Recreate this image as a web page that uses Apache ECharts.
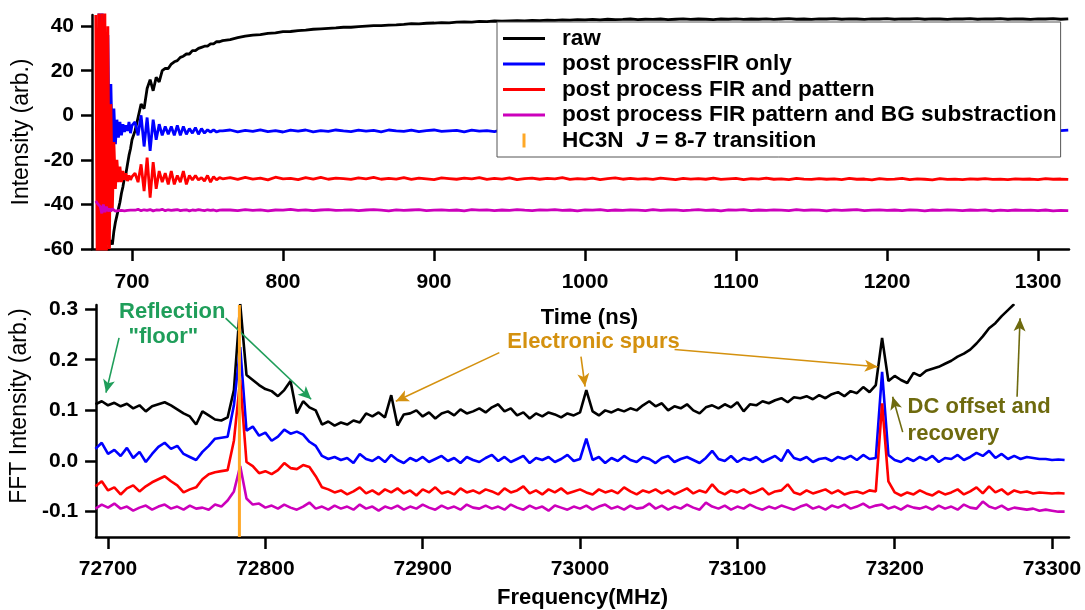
<!DOCTYPE html>
<html><head><meta charset="utf-8">
<script src="https://cdn.jsdelivr.net/npm/echarts@6/dist/echarts.min.js"></script>
<style>html,body{margin:0;padding:0;background:#fff}#c{width:1085px;height:610px}</style>
</head><body><div id="c"></div>
<script>
// ---------- labels / ticks ----------
const seriesNames = ['raw', 'post processFIR only', 'post process FIR and pattern', 'post process FIR pattern and BG substraction'];
const hc3nName = 'HC3N  J = 8-7 transition';
const hc3nFreq = 72783.5;
const timeTicks = [700, 800, 900, 1000, 1100, 1200, 1300];
const intensityTicks = [-60, -40, -20, 0, 20, 40];
const freqTicks = [72700, 72800, 72900, 73000, 73100, 73200, 73300];
const fftTicks = [-0.1, 0, 0.1, 0.2, 0.3];

// ---------- time-domain sampling: [start, step, count] ----------
const timeSegments = [[676, 1, 25], [702, 2, 30], [765, 5, 112]];

const timeRaw = [
  -80,-80,-80,-80,-78,-75,-72,-66,-62,-58,-56,-58,-52,-48,-45,-42,-39,-35,-32,-28,-26,-22,-18,-15,-11,
  -7,-1,5,3,12,16,11,17,15,20,21,21,23,24,24.5,26,26.5,27.5,27.5,29,29,30,30.5,31,31,32,32,33,33,33.5,
  34,34.8,35.5,36,36.2,36.8,37,37.5, 37.6,38,38.2,38.6,38.8,39,39.2,39.5, 39.5,39.8,40,40.2,40.2,40.5,40.6,40.8,
  41.1,41.0,41.3,41.4,41.6,41.5,41.8,41.9, 41.8,42.1,42.0,42.3,42.2,42.4,42.5,42.3, 42.6,42.5,42.7,42.6,42.8,42.7,42.9,42.8,
  43.0,42.8,43.1,42.9,43.0,43.2,42.9,43.1, 43.0,43.2,42.9,43.1,43.3,43.0,43.2,43.1,
  42.9,43.2,43.1,43.3,43.0,43.2,43.1,43.3, 43.0,43.2,43.4,43.1,43.2,43.0,43.3,43.2,
  43.4,43.1,43.3,43.2,43.0,43.3,43.2,43.4, 43.1,43.3,43.2,43.4,43.1,43.3,43.2,43.0,
  43.3,43.2,43.4,43.1,43.3,43.2,43.4,43.1, 43.3,43.2,43.0,43.3,43.2,43.4,43.1,43.3
];
const timeFirOnly = [
  50,46,50,18,48,40,30,-22,36,-26,14,-18,3,-13,-2,-10,-3,-9,-4,-7.5,-4.5,-7,-3,-8,-4.5,
  -3,-9,0,-14,-1,-16,-2,-11,-4,-9,-5,-8.5,-5,-9,-4.5,-9,-5,-8.5,-6,-8,-5.5,-8.5,-6,-8,-6.5,-7.5,-6.5,-7.5,-7,-7,
  -6.6,-7.4,-6.8,-7.2,-6.5,-7.3,-6.9,-7.5, -6.7,-7.1,-6.6,-7.4,-6.9,-7.2,-6.6,-7.0,
  -7.3,-6.7,-7.1,-6.8,-7.4,-6.6,-7.0,-7.2, -6.7,-7.3,-6.9,-6.6,-7.2,-7.0,-6.8,-7.4,
  -6.7,-7.1,-6.9,-7.3,-6.6,-7.0,-7.2,-6.8, -7.1,-6.7,-7.3,-6.9,-7.0,-6.6,-7.2,-6.8,
  -7.1,-6.9,-6.6,-7.2,-7.0,-6.7,-7.3,-6.9, -6.8,-7.1,-6.6,-7.0,-7.2,-6.8,-6.9,-7.1,
  -6.7,-7.2,-6.9,-6.6,-7.0,-7.3,-6.8,-7.0, -6.7,-7.1,-6.9,-7.2,-6.6,-7.0,-6.8,-7.1,
  -6.9,-6.7,-7.2,-6.8,-7.0,-6.6,-7.1,-6.9, -7.2,-6.8,-6.6,-7.0,-7.1,-6.7,-6.9,-7.2,
  -6.8,-7.0,-6.7,-7.1,-6.9,-6.6,-7.0,-6.8, -7.1,-6.9,-6.7,-7.0,-6.8,-6.6,-6.9,-6.7
];
const timeFirPattern = [
  45,-75,50,-75,50,-75,50,-70,40,-60,5,-42,-12,-33,-20,-30,-23,-30,-25,-29,-26,-29.5,-27,-29,-27.5,
  -26,-30,-22,-34,-19,-37,-21,-33,-25,-30,-26,-31,-25,-31,-27,-30,-25,-31,-27,-29,-27,-29,-28,-29.5,-27,-30,-27.5,-29,-28,-28.5,
  -28.0,-28.8,-27.9,-28.6,-28.2,-29.0,-27.8,-28.5, -28.3,-28.9,-28.0,-28.6,-27.9,-28.7,-28.2,-28.4,
  -28.8,-28.1,-28.5,-27.9,-28.7,-28.3,-28.6,-28.0, -28.8,-28.2,-28.5,-28.9,-28.1,-28.4,-28.7,-28.2,
  -28.5,-28.0,-28.8,-28.3,-28.6,-28.1,-28.9,-28.4, -28.2,-28.7,-28.3,-28.5,-28.0,-28.8,-28.4,-28.6,
  -28.2,-28.9,-28.4,-28.1,-28.7,-28.3,-28.6,-28.4, -28.8,-28.2,-28.5,-28.9,-28.3,-28.6,-28.4,-28.7,
  -28.2,-28.8,-28.5,-28.3,-28.9,-28.4,-28.6,-28.2, -28.7,-28.5,-28.9,-28.3,-28.6,-28.8,-28.4,-28.7,
  -28.5,-28.9,-28.3,-28.7,-28.6,-29.0,-28.4,-28.8, -28.6,-28.3,-28.9,-28.5,-28.7,-29.0,-28.4,-28.8,
  -28.6,-28.9,-28.5,-28.7,-28.4,-28.8,-28.6,-28.9, -28.5,-28.7,-28.6,-28.9,-28.4,-28.7,-28.6,-28.8
];
const timeFirPatternBG = [
  -38.5,-39.5,-40,-41,-44,-40,-43.5,-41,-43,-42,-43,-42,-42.5,-43,-42.5,-42.8,-42.3,-42.7,-42.4,-42.9,-42.5,-42.7,-42.2,-42.6,-42.4,
  -42.6,-42.2,-42.8,-42.4,-42.7,-42.3,-42.9,-42.5,-42.6,-42.2,-42.8,-42.4,-42.7,-42.5,-42.3,-42.8,-42.6,-42.4,-42.9,-42.5,-42.7,-42.3,-42.6,-42.8,-42.4,-42.7,-42.5,-42.9,-42.6,-42.4,
  -42.5,-42.8,-42.3,-42.7,-42.4,-42.9,-42.5,-42.6, -42.2,-42.7,-42.4,-42.8,-42.5,-42.3,-42.7,-42.6,
  -42.4,-42.8,-42.5,-42.3,-42.6,-42.9,-42.4,-42.7, -42.5,-42.3,-42.8,-42.6,-42.4,-42.7,-42.5,-42.9,
  -42.3,-42.6,-42.4,-42.8,-42.5,-42.7,-42.3,-42.6, -42.8,-42.4,-42.6,-42.3,-42.7,-42.5,-42.9,-42.4,
  -42.6,-42.3,-42.8,-42.5,-42.7,-42.4,-42.6,-42.8, -42.3,-42.7,-42.5,-42.4,-42.8,-42.6,-42.3,-42.7,
  -42.5,-42.9,-42.4,-42.6,-42.3,-42.8,-42.5,-42.7, -42.4,-42.6,-42.8,-42.3,-42.7,-42.5,-42.6,-42.9,
  -42.4,-42.7,-42.5,-42.3,-42.8,-42.6,-42.4,-42.7, -42.5,-42.8,-42.4,-42.6,-42.9,-42.5,-42.7,-42.4,
  -42.6,-42.8,-42.5,-42.7,-42.4,-42.9,-42.6,-42.8, -42.5,-42.7,-42.6,-42.8,-42.5,-42.9,-42.7,-42.8
];

// ---------- frequency-domain sampling: [start, step, count] ----------
const freqSampling = [72692, 4, 155];

const fftRaw = [
  0.112,0.118,0.110,0.115,0.108,0.113,0.104,0.110,0.098,0.108,
  0.112,0.116,0.110,0.102,0.094,0.088,0.072,0.098,0.090,0.082,
  0.080,0.086,0.140,0.310,0.170,0.160,0.150,0.142,0.138,0.128,
  0.140,0.158,0.094,0.118,0.106,0.100,0.072,0.078,0.070,0.076,
  0.072,0.080,0.076,0.094,0.088,0.096,0.086,0.130,0.070,0.092,
  0.094,0.100,0.088,0.096,0.084,0.094,0.098,0.090,0.102,0.094,
  0.098,0.104,0.096,0.106,0.112,0.098,0.104,0.090,0.096,0.084,
  0.094,0.088,0.096,0.092,0.086,0.094,0.090,0.096,0.140,0.098,
  0.090,0.100,0.096,0.102,0.098,0.104,0.100,0.110,0.118,0.108,
  0.114,0.100,0.108,0.104,0.112,0.100,0.094,0.106,0.110,0.104,
  0.112,0.106,0.116,0.098,0.112,0.110,0.118,0.114,0.120,0.124,
  0.116,0.126,0.124,0.128,0.122,0.130,0.124,0.132,0.136,0.128,
  0.138,0.134,0.146,0.136,0.150,0.243,0.158,0.168,0.160,0.154,
  0.174,0.168,0.178,0.182,0.186,0.192,0.198,0.206,0.212,0.220,
  0.232,0.246,0.262,0.272,0.286,0.298,0.310
];
const fftFirOnly = [
  0.024,0.036,0.014,0.022,0.010,0.026,0.006,0.018,-0.002,0.014,
  0.028,0.036,0.024,0.030,0.014,0.008,0.002,0.018,0.030,0.044,
  0.046,0.048,0.110,0.225,0.060,0.068,0.050,0.056,0.040,0.048,
  0.062,0.054,0.058,0.052,0.038,0.030,0.010,0.004,0.008,0.002,
  0.006,-0.004,0.014,0.004,0.000,0.008,-0.002,0.012,0.002,-0.004,
  0.006,0.000,0.008,-0.002,0.004,0.010,0.000,0.006,-0.004,0.008,
  0.002,-0.002,0.006,0.012,0.000,0.008,-0.002,0.004,0.010,-0.004,
  0.006,0.002,0.008,-0.002,0.004,0.012,0.000,0.004,0.044,0.002,
  0.008,-0.004,0.006,0.000,0.010,0.002,-0.002,0.008,0.004,-0.004,
  0.006,0.010,-0.002,0.004,0.008,0.002,-0.004,0.006,0.020,0.004,
  0.000,0.010,-0.002,0.006,0.002,0.008,-0.002,0.004,0.010,0.000,
  0.022,0.006,0.002,0.008,-0.002,0.004,0.006,0.000,0.008,0.004,
  0.010,0.002,0.012,0.004,0.006,0.176,0.012,0.002,-0.002,0.006,
  0.000,0.008,0.002,0.010,-0.002,0.006,0.004,0.012,0.002,0.008,
  0.016,0.010,0.020,0.006,0.014,0.004,0.010,0.004,0.008,0.006,
  0.004,0.004,0.002,0.003,0.002
];
const fftFirPattern = [
  -0.050,-0.040,-0.058,-0.052,-0.066,-0.054,-0.048,-0.060,-0.050,-0.042,
  -0.036,-0.030,-0.040,-0.048,-0.062,-0.056,-0.052,-0.036,-0.026,-0.022,
  -0.020,-0.018,0.040,0.160,-0.002,-0.010,-0.024,-0.020,-0.026,-0.018,
  -0.004,-0.014,-0.016,-0.008,-0.012,-0.030,-0.052,-0.056,-0.062,-0.058,
  -0.066,-0.060,-0.052,-0.064,-0.058,-0.066,-0.056,-0.062,-0.054,-0.064,
  -0.058,-0.068,-0.056,-0.062,-0.052,-0.064,-0.060,-0.066,-0.054,-0.062,
  -0.058,-0.064,-0.056,-0.060,-0.066,-0.054,-0.062,-0.058,-0.050,-0.064,
  -0.058,-0.066,-0.056,-0.062,-0.054,-0.064,-0.060,-0.056,-0.062,-0.066,
  -0.056,-0.062,-0.058,-0.064,-0.052,-0.060,-0.066,-0.058,-0.062,-0.056,
  -0.064,-0.058,-0.066,-0.060,-0.054,-0.064,-0.058,-0.062,-0.046,-0.060,
  -0.066,-0.058,-0.062,-0.056,-0.064,-0.060,-0.054,-0.066,-0.060,-0.058,
  -0.046,-0.062,-0.066,-0.058,-0.064,-0.060,-0.056,-0.064,-0.058,-0.066,
  -0.062,-0.060,-0.064,-0.058,-0.060,0.114,-0.040,-0.062,-0.068,-0.062,
  -0.066,-0.058,-0.064,-0.068,-0.060,-0.066,-0.062,-0.056,-0.066,-0.060,
  -0.052,-0.064,-0.050,-0.062,-0.056,-0.066,-0.058,-0.062,-0.060,-0.064,
  -0.062,-0.063,-0.064,-0.063,-0.064
];
const fftFirPatternBG = [
  -0.094,-0.086,-0.092,-0.084,-0.094,-0.090,-0.098,-0.092,-0.088,-0.096,
  -0.090,-0.086,-0.094,-0.090,-0.096,-0.088,-0.094,-0.092,-0.096,-0.086,
  -0.090,-0.078,-0.060,-0.010,-0.074,-0.086,-0.084,-0.092,-0.088,-0.094,
  -0.086,-0.092,-0.096,-0.090,-0.082,-0.094,-0.090,-0.096,-0.088,-0.094,
  -0.090,-0.096,-0.086,-0.094,-0.090,-0.098,-0.090,-0.094,-0.088,-0.096,
  -0.090,-0.094,-0.086,-0.092,-0.096,-0.088,-0.094,-0.090,-0.096,-0.086,
  -0.092,-0.094,-0.088,-0.094,-0.090,-0.096,-0.086,-0.092,-0.096,-0.088,
  -0.094,-0.090,-0.098,-0.088,-0.092,-0.096,-0.090,-0.094,-0.088,-0.096,
  -0.090,-0.086,-0.094,-0.090,-0.096,-0.088,-0.094,-0.092,-0.084,-0.094,
  -0.088,-0.096,-0.090,-0.094,-0.086,-0.092,-0.096,-0.082,-0.090,-0.094,
  -0.088,-0.096,-0.090,-0.094,-0.086,-0.092,-0.096,-0.090,-0.094,-0.088,
  -0.092,-0.096,-0.090,-0.086,-0.094,-0.090,-0.096,-0.088,-0.092,-0.086,
  -0.094,-0.090,-0.084,-0.092,-0.088,-0.086,-0.094,-0.090,-0.096,-0.088,
  -0.092,-0.094,-0.090,-0.096,-0.088,-0.094,-0.090,-0.096,-0.086,-0.092,
  -0.094,-0.080,-0.090,-0.094,-0.088,-0.096,-0.092,-0.094,-0.096,-0.094,
  -0.098,-0.096,-0.098,-0.100,-0.100
];

// ---------- annotations (data coordinates of the FFT panel) ----------
const annotTexts = [
  ['Reflection', 72707.0, 0.294, 'green'],
  ['"floor"', 72713.0, 0.245, 'green'],
  ['Electronic spurs', 72953.8, 0.235, 'gold'],
  ['DC offset and', 73208.2, 0.106, 'olive'],
  ['recovery', 73208.2, 0.053, 'olive']
];
const annotArrows = [
  [72707.0, 0.243, 72698.7, 0.135, 'green'],
  [72774.7, 0.282, 72829.1, 0.122, 'green'],
  [72948.7, 0.214, 72882.9, 0.118, 'gold'],
  [73000.6, 0.206, 73003.2, 0.147, 'gold'],
  [73060.1, 0.220, 73189.2, 0.186, 'gold'],
  [73205.1, 0.057, 73198.7, 0.127, 'olive'],
  [73277.8, 0.127, 73279.7, 0.282, 'olive']
];

// ---------- build ----------
const annotColors = { green: '#1f9e5a', gold: '#d4910f', olive: '#6e6a0e' };
const lineColors = ['#000000', '#0000ff', '#ff0000', '#cc00bb'];
const hc3nColor = '#ffa826';
const FONT = '"Liberation Sans", Arial, Helvetica, sans-serif';

const timeAxisVals = [];
timeSegments.forEach(([s, st, n]) => { for (let k = 0; k < n; k++) timeAxisVals.push(s + k * st); });
const freqAxisVals = [];
for (let k = 0; k < freqSampling[2]; k++) freqAxisVals.push(freqSampling[0] + k * freqSampling[1]);

const pair = (xs, ys) => ys.map((v, i) => [xs[i], v]);
const topVals = [timeRaw, timeFirOnly, timeFirPattern, timeFirPatternBG];
const botVals = [fftRaw, fftFirOnly, fftFirPattern, fftFirPatternBG];

const series = [];
seriesNames.forEach((nm, i) => {
  series.push({
    name: nm, type: 'line', xAxisIndex: 0, yAxisIndex: 0, data: pair(timeAxisVals, topVals[i]),
    showSymbol: false, symbol: 'none', color: lineColors[i], lineStyle: { width: 2.8, color: lineColors[i] },
    itemStyle: { color: lineColors[i] }, animation: false, z: 2 + i
  });
});
seriesNames.forEach((nm, i) => {
  series.push({
    name: nm, type: 'line', xAxisIndex: 1, yAxisIndex: 1, data: pair(freqAxisVals, botVals[i]),
    showSymbol: false, symbol: 'none', color: lineColors[i], lineStyle: { width: 2.6, color: lineColors[i] },
    itemStyle: { color: lineColors[i] }, animation: false, z: 2 + i
  });
});
series.push({
  name: hc3nName, type: 'line', xAxisIndex: 1, yAxisIndex: 1,
  data: [[hc3nFreq, -0.15], [hc3nFreq, 0.308]],
  showSymbol: false, symbol: 'none', color: hc3nColor, lineStyle: { width: 3, color: hc3nColor },
  itemStyle: { color: hc3nColor }, animation: false, z: 10
});
series.push({
  name: 'annotations', type: 'line', xAxisIndex: 1, yAxisIndex: 1, data: [], animation: false, z: 11,
  markLine: {
    silent: true, animation: false, symbol: ['none', 'arrow'], symbolSize: [9, 13], label: { show: false },
    data: annotArrows.map(a => [
      { coord: [a[0], a[1]], lineStyle: { color: annotColors[a[4]], width: 1.6, type: 'solid' }, itemStyle: { color: annotColors[a[4]] } },
      { coord: [a[2], a[3]] }
    ])
  }
});

const tickLabel = { fontFamily: FONT, fontWeight: 'bold', fontSize: 21, color: '#000' };
const axisLineStyle = { show: true, onZero: false, lineStyle: { color: '#000', width: 2.5 } };
const plain = v => String(v);

const option = {
  backgroundColor: '#fff',
  animation: false,
  grid: [
    { left: 92, top: 15, width: 977, height: 234 },
    { left: 92, top: 305, width: 977, height: 233 }
  ],
  xAxis: [
    { type: 'value', gridIndex: 0, min: 673.5, max: 1320.5,
      axisLine: axisLineStyle,
      axisTick: { show: true, length: 12, lineStyle: { width: 2.5, color: '#000' }, customValues: timeTicks },
      axisLabel: Object.assign({ margin: 23, customValues: timeTicks, formatter: plain }, tickLabel),
      splitLine: { show: false },
      name: 'Time (ns)', nameLocation: 'middle', nameGap: 58,
      nameTextStyle: { fontFamily: FONT, fontWeight: 'bold', fontSize: 22, color: '#000', padding: [0, 0, 0, 18] } },
    { type: 'value', gridIndex: 1, min: 72692.4, max: 73310.8,
      axisLine: axisLineStyle,
      axisTick: { show: true, length: 12, lineStyle: { width: 2.5, color: '#000' }, customValues: freqTicks },
      axisLabel: Object.assign({ margin: 22, customValues: freqTicks, formatter: plain }, tickLabel),
      splitLine: { show: false },
      name: 'Frequency(MHz)', nameLocation: 'middle', nameGap: 50,
      nameTextStyle: { fontFamily: FONT, fontWeight: 'bold', fontSize: 22, color: '#000' } }
  ],
  yAxis: [
    { type: 'value', gridIndex: 0, min: -60, max: 45,
      axisLine: axisLineStyle,
      axisTick: { show: true, length: 11, lineStyle: { width: 2.5, color: '#000' }, customValues: intensityTicks },
      axisLabel: Object.assign({ margin: 18, customValues: intensityTicks, formatter: plain }, tickLabel),
      splitLine: { show: false },
      name: 'Intensity (arb.)', nameLocation: 'middle', nameGap: 57,
      nameTextStyle: { fontFamily: FONT, fontWeight: 'normal', fontSize: 23, color: '#000' } },
    { type: 'value', gridIndex: 1, min: -0.15, max: 0.308,
      axisLine: axisLineStyle,
      axisTick: { show: true, length: 11, lineStyle: { width: 2.5, color: '#000' }, customValues: fftTicks },
      axisLabel: Object.assign({ margin: 18, customValues: fftTicks, formatter: v => Number(v).toFixed(1) }, tickLabel),
      splitLine: { show: false },
      name: 'FFT Intensity (arb.)', nameLocation: 'middle', nameGap: 57,
      nameTextStyle: { fontFamily: FONT, fontWeight: 'normal', fontSize: 23, color: '#000', padding: [0, 0, 0, 30] } }
  ],
  legend: {
    left: 497, top: 22, orient: 'vertical', selectedMode: false,
    backgroundColor: '#fff', borderColor: '#555', borderWidth: 1,
    padding: [5, 4, 5, 6], itemGap: 2.5, itemWidth: 42, itemHeight: 14,
    textStyle: {
      fontFamily: FONT, fontWeight: 'bold', fontSize: 22.6, color: '#000', lineHeight: 22, padding: [0, 0, 0, 12],
      rich: {
        a: { fontFamily: FONT, fontWeight: 'bold', fontSize: 22.6, color: '#000', lineHeight: 22 },
        j: { fontFamily: FONT, fontWeight: 'bold', fontStyle: 'italic', fontSize: 22.6, color: '#000', lineHeight: 22 }
      }
    },
    formatter: name => name === hc3nName ? '{a|HC3N  }{j|J}{a| = 8-7 transition}' : name,
    data: seriesNames.map((n, i) => ({ name: n, icon: 'path://M0 0H40V3H0Z', itemStyle: { color: lineColors[i] } }))
      .concat([{ name: hc3nName, icon: 'path://M0 0H3V14H0Z', itemStyle: { color: hc3nColor } }])
  },
  series: series
};

const chart = echarts.init(document.getElementById('c'), null, { renderer: 'canvas' });
chart.setOption(option);

const graphics = annotTexts.map(([t, fx, fy, c]) => {
  const p = chart.convertToPixel({ xAxisIndex: 1, yAxisIndex: 1 }, [fx, fy]);
  return {
    type: 'text', x: p[0], y: p[1], z: 100, silent: true,
    style: { text: t, fill: annotColors[c], fontFamily: FONT, fontWeight: 'bold', fontSize: 22, align: 'left', verticalAlign: 'middle' }
  };
});
chart.setOption({ graphic: graphics });
</script></body></html>
